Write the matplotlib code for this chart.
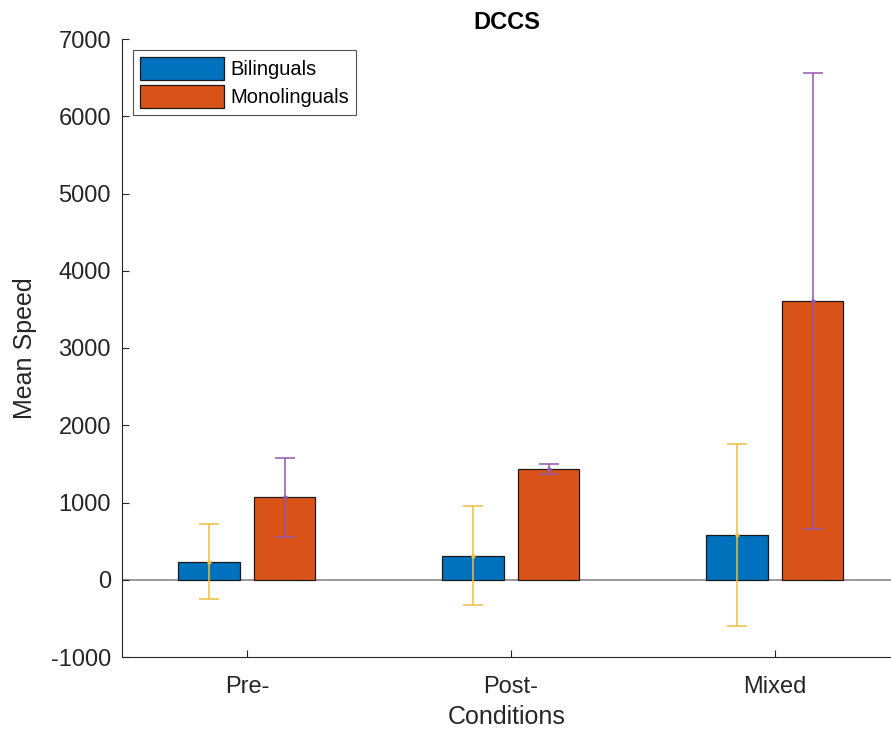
import matplotlib
matplotlib.use("Agg")
import matplotlib.pyplot as plt
import numpy as np

plt.rcParams['font.family'] = ['Liberation Sans', 'DejaVu Sans']
plt.rcParams['axes.unicode_minus'] = False

conditions = ["Pre-", "Post-", "Mixed"]
groups = ["Bilinguals", "Monolinguals"]
bilingual_mean = [232, 312, 579]
bilingual_err = [485, 645, 1175]
monolingual_mean = [1070, 1432, 3605]
monolingual_err = [512, 66, 2950]

fig = plt.figure(figsize=(8.91, 7.33), dpi=100)
ax = fig.add_axes([122/891, 1-657/733, 1-122/891, (657-39)/733])

x = np.arange(1, len(conditions)+1)
off = 0.143
w = 0.232
ax.bar(x-off, bilingual_mean, w, color='#0072BD', edgecolor='#1a1a1a', linewidth=0.9, label=groups[0], zorder=2)
ax.bar(x+off, monolingual_mean, w, color='#D95319', edgecolor='#1a1a1a', linewidth=0.9, label=groups[1], zorder=2)
ax.axhline(0, color='#8a8a8a', linewidth=1.2, zorder=1)
ax.errorbar(x-off, bilingual_mean, yerr=bilingual_err, fmt='.', color='#EDBE45', markersize=4,
            elinewidth=1.1, capsize=7, capthick=1.1, zorder=3)
ax.errorbar(x+off, monolingual_mean, yerr=monolingual_err, fmt='.', color='#9457AC', markersize=4,
            elinewidth=1.1, capsize=7, capthick=1.1, zorder=3)

ax.set_xlim(0.527, 3.44)
ax.set_ylim(-1000, 7000)
ax.set_yticks(np.arange(-1000, 7001, 1000))
ax.set_xticks(x)
ax.set_xticklabels(conditions)
ax.tick_params(direction='in', length=5, width=0.8, colors='#262626', labelsize=17, pad=8)
ax.tick_params(axis='x', pad=14)
for s in ['top', 'right']:
    ax.spines[s].set_visible(False)
for s in ['left', 'bottom']:
    ax.spines[s].set_color('#262626')
    ax.spines[s].set_linewidth(0.8)

ax.set_xlabel("Conditions", fontsize=18, color='#262626', labelpad=5)
ax.set_ylabel("Mean Speed", fontsize=18, color='#262626', labelpad=10)
ax.set_title("DCCS", fontsize=17, fontweight='bold', pad=7)

leg = ax.legend(loc='upper left', bbox_to_anchor=(0.014, 0.983), fontsize=14.5, frameon=True,
                fancybox=False, edgecolor='#262626', handlelength=4.2, handleheight=1.4,
                borderpad=0.35, labelspacing=0.25, handletextpad=0.3, borderaxespad=0)
leg.get_frame().set_linewidth(0.8)

fig.savefig("out.png", dpi=100)
